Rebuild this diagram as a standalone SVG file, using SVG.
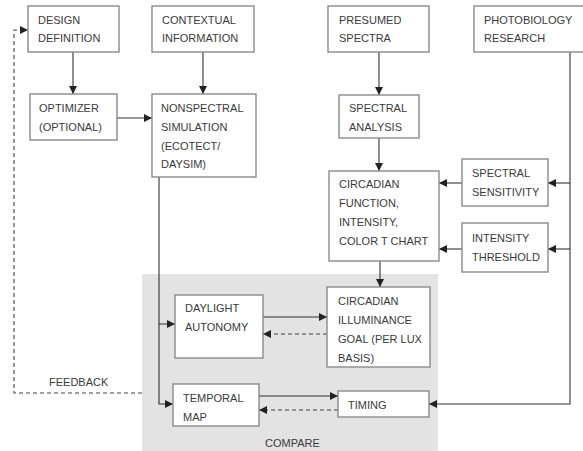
<svg xmlns="http://www.w3.org/2000/svg" width="583" height="451" viewBox="0 0 583 451">
<style>
.box{fill:#fff;stroke:#8a8a8a;stroke-width:1.4}
text{font-family:"Liberation Sans",Arial,sans-serif;font-size:11px;fill:#3a3a3a}
.ln{fill:none;stroke:#333;stroke-width:1.1}
.dash{fill:none;stroke:#444;stroke-width:1.1;stroke-dasharray:4,3}
</style>
<defs>
<marker id="ah" viewBox="0 0 10 10" refX="10" refY="5" markerWidth="8" markerHeight="8" markerUnits="userSpaceOnUse" orient="auto">
<path d="M0,0 L10,5 L0,10 z" fill="#222"/>
</marker>
</defs>
<rect x="142" y="274" width="296" height="177" fill="#e3e3e3"/>
<g id="connectors">
<path class="ln" d="M73,52 V94" marker-end="url(#ah)"/>
<path class="ln" d="M203,52 V94" marker-end="url(#ah)"/>
<path class="ln" d="M117,118 H152" marker-end="url(#ah)"/>
<path class="ln" d="M379,52 V95" marker-end="url(#ah)"/>
<path class="ln" d="M379,138 V171" marker-end="url(#ah)"/>
<path class="ln" d="M570,52 V404 H429" marker-end="url(#ah)"/>
<path class="ln" d="M570,183 H548" marker-end="url(#ah)"/>
<path class="ln" d="M462,183 H439" marker-end="url(#ah)"/>
<path class="ln" d="M570,249 H548" marker-end="url(#ah)"/>
<path class="ln" d="M462,249 H439" marker-end="url(#ah)"/>
<path class="ln" d="M380,261 V287" marker-end="url(#ah)"/>
<path class="ln" d="M159,177 V324 H175" marker-end="url(#ah)"/>
<path class="ln" d="M159,324 V404 H173" marker-end="url(#ah)"/>
<path class="ln" d="M263,317 H327" marker-end="url(#ah)"/>
<path class="dash" d="M327,334 H263" marker-end="url(#ah)"/>
<path class="ln" d="M259,396 H338" marker-end="url(#ah)"/>
<path class="dash" d="M338,410 H259" marker-end="url(#ah)"/>
<path class="dash" d="M142,393 H14 V30 H28" stroke-dasharray="3,2" marker-end="url(#ah)"/>
</g>
<g id="design"><rect class="box" x="28" y="6" width="91" height="46"/><text x="38" y="24">DESIGN</text><text x="38" y="42">DEFINITION</text></g>
<g id="contextual"><rect class="box" x="152" y="6" width="102" height="46"/><text x="162" y="24">CONTEXTUAL</text><text x="162" y="42">INFORMATION</text></g>
<g id="presumed"><rect class="box" x="328" y="6" width="101" height="46"/><text x="339" y="24">PRESUMED</text><text x="339" y="42">SPECTRA</text></g>
<g id="photobiology"><rect class="box" x="474" y="6" width="112" height="46"/><text x="484" y="24">PHOTOBIOLOGY</text><text x="484" y="42">RESEARCH</text></g>
<g id="optimizer"><rect class="box" x="30" y="94" width="87" height="46"/><text x="39" y="112">OPTIMIZER</text><text x="39" y="131">(OPTIONAL)</text></g>
<g id="nonspectral"><rect class="box" x="152" y="94" width="104" height="83"/><text x="161" y="112">NONSPECTRAL</text><text x="161" y="131">SIMULATION</text><text x="161" y="150">(ECOTECT/</text><text x="161" y="168">DAYSIM)</text></g>
<g id="spectral-analysis"><rect class="box" x="339" y="95" width="80" height="43"/><text x="349" y="112">SPECTRAL</text><text x="349" y="131">ANALYSIS</text></g>
<g id="circadian-function"><rect class="box" x="329" y="171" width="110" height="90"/><text x="339" y="188">CIRCADIAN</text><text x="339" y="207">FUNCTION,</text><text x="339" y="226">INTENSITY,</text><text x="339" y="245">COLOR T CHART</text></g>
<g id="spectral-sensitivity"><rect class="box" x="462" y="159" width="86" height="47"/><text x="472" y="177">SPECTRAL</text><text x="472" y="196">SENSITIVITY</text></g>
<g id="intensity-threshold"><rect class="box" x="462" y="223" width="86" height="49"/><text x="472" y="242">INTENSITY</text><text x="472" y="261">THRESHOLD</text></g>
<g id="daylight"><rect class="box" x="175" y="295" width="88" height="63"/><text x="185" y="312">DAYLIGHT</text><text x="185" y="331">AUTONOMY</text></g>
<g id="circadian-illuminance"><rect class="box" x="327" y="287" width="103" height="80"/><text x="338" y="305">CIRCADIAN</text><text x="338" y="324">ILLUMINANCE</text><text x="338" y="343">GOAL (PER LUX</text><text x="338" y="362">BASIS)</text></g>
<g id="temporal"><rect class="box" x="173" y="384" width="86" height="42"/><text x="183" y="402">TEMPORAL</text><text x="183" y="421">MAP</text></g>
<g id="timing"><rect class="box" x="338" y="391" width="91" height="26"/><text x="348" y="409">TIMING</text></g>
<text x="49" y="386">FEEDBACK</text>
<text x="265" y="447">COMPARE</text>
</svg>
